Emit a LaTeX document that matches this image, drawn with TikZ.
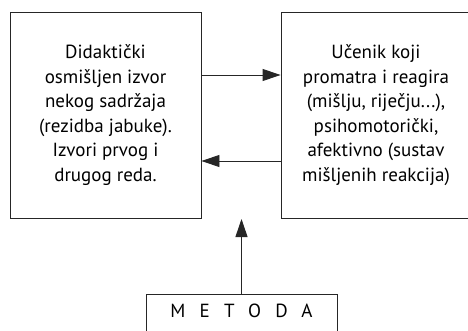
\documentclass[tikz,border=0pt]{standalone}
\usepackage{fontspec}
\setmainfont{PT Sans}
\usetikzlibrary{arrows.meta}

\tikzset{
	okvir/.style={draw=black!85, line width=0.9pt, align=center, inner sep=0pt,
		font=\fontsize{19}{24.5}\selectfont},
	strelica/.style={draw=black!85, line width=0.9pt, -{Triangle[length=18pt,width=12pt]}}
}

\begin{document}
\begin{tikzpicture}[x=1pt, y=1pt]
					\def\gornja{-75};
					\def\donja{-161};

					\useasboundingbox (0,0) rectangle (468,-331);

					\node[okvir, minimum width=191pt, minimum height=206pt] (izvor) at (105.5,-115)
						{Didaktički\\osmišljen izvor\\nekog sadržaja\\(rezidba jabuke).\\Izvori prvog i\\drugog reda.};
					\node[okvir, minimum width=190pt, minimum height=206pt] (ucenik) at (376,-115)
						{Učenik koji\\promatra i reagira\\(mišlju, riječju...),\\psihomotorički,\\afektivno (sustav\\mišljenih reakcija)};
					\node[okvir, minimum width=191pt, inner ysep=9pt, text height=14pt, text depth=30pt,
						anchor=north] (metoda) at (241.5,-294)
						{\addfontfeature{LetterSpace=75}METODA};

					\coordinate (vrh) at (241.5,-219);

					\draw[strelica] (izvor.east |- 0,\gornja) -- (ucenik.west |- 0,\gornja);
					\draw[strelica] (ucenik.west |- 0,\donja) -- (izvor.east |- 0,\donja);
					\draw[strelica] (metoda.north) -- (vrh);
				\end{tikzpicture}
\end{document}
